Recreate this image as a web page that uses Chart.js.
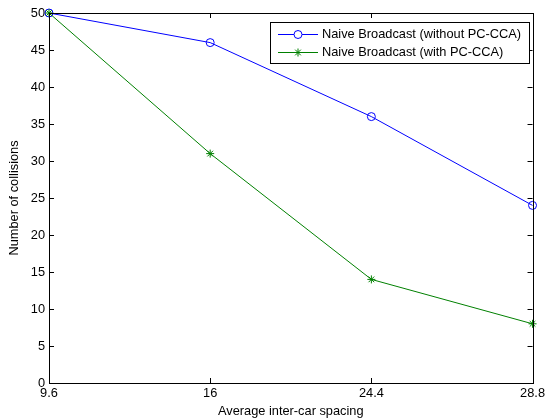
<!DOCTYPE html>
<html>
<head>
<meta charset="utf-8">
<script src="https://cdn.jsdelivr.net/npm/chart.js@4.4.0/dist/chart.umd.min.js"></script>
<style>
    html, body { margin: 0; padding: 0; background: #fff; }
    #wrap { width: 548px; height: 418px; }
</style>
</head>
<body>
<div id="wrap"><canvas id="chart" width="548" height="418"></canvas></div>
<script>
const spacing = ['9.6', '16', '24.4', '28.8'];
const withoutPCCA = [50, 46, 36, 24];
const withPCCA = [50, 31, 14, 8];
const seriesNames = ['Naive Broadcast (without PC-CCA)', 'Naive Broadcast (with PC-CCA)'];

const FONT = 'Arial, "Liberation Sans", sans-serif';
const BLUE = '#0000ff';
const GREEN = '#008000';

// box, inward ticks and legend, matlab style
const matlabFrame = {
    id: 'matlabFrame',
    afterDraw(chart) {
        const ctx = chart.ctx;
        const a = chart.chartArea;
        const xs = chart.scales.x, ys = chart.scales.y;
        ctx.save();
        ctx.strokeStyle = '#000';
        ctx.lineWidth = 1;
        ctx.strokeRect(Math.round(a.left) + 0.5, Math.round(a.top) + 0.5,
            Math.round(a.right - a.left), Math.round(a.bottom - a.top));

        ctx.beginPath();
        ys.ticks.forEach(t => {
            const y = Math.round(ys.getPixelForValue(t.value)) + 0.5;
            ctx.moveTo(a.left, y); ctx.lineTo(a.left + 5, y);
            ctx.moveTo(a.right, y); ctx.lineTo(a.right - 5, y);
        });
        spacing.forEach((s, i) => {
            const x = Math.round(xs.getPixelForValue(i)) + 0.5;
            ctx.moveTo(x, a.bottom); ctx.lineTo(x, a.bottom - 5);
            ctx.moveTo(x, a.top); ctx.lineTo(x, a.top + 5);
        });
        ctx.stroke();

        // legend
        const lx = 270.5, ly = 22.5, lw = 259, lh = 41;
        ctx.fillStyle = '#fff';
        ctx.fillRect(lx, ly, lw, lh);
        ctx.strokeRect(lx, ly, lw, lh);
        const rows = [
            { y: 34.5, color: BLUE, marker: 'circle' },
            { y: 52.5, color: GREEN, marker: 'star' }
        ];
        ctx.font = '12.8px ' + FONT;
        ctx.textBaseline = 'middle';
        rows.forEach((r, i) => {
            ctx.strokeStyle = r.color;
            ctx.beginPath();
            ctx.moveTo(278, r.y); ctx.lineTo(318, r.y);
            ctx.stroke();
            ctx.beginPath();
            if (r.marker === 'circle') {
                ctx.fillStyle = '#fff';
                ctx.arc(298, r.y, 4, 0, Math.PI * 2);
                ctx.fill();
            } else {
                for (let k = 0; k < 4; k++) {
                    const ang = k * Math.PI / 4;
                    ctx.moveTo(298 - 4 * Math.cos(ang), r.y - 4 * Math.sin(ang));
                    ctx.lineTo(298 + 4 * Math.cos(ang), r.y + 4 * Math.sin(ang));
                }
            }
            ctx.stroke();
            ctx.fillStyle = '#000';
            ctx.fillText(seriesNames[i], 322, r.y);
        });
        ctx.restore();
    }
};

new Chart(document.getElementById('chart'), {
    type: 'line',
    data: {
        labels: spacing,
        datasets: [{
            label: seriesNames[0],
            data: withoutPCCA,
            borderColor: BLUE,
            backgroundColor: 'rgba(255,255,255,0)',
            borderWidth: 1,
            pointStyle: 'circle',
            pointRadius: 4,
            pointBorderColor: BLUE,
            pointBorderWidth: 1,
            pointBackgroundColor: 'rgba(255,255,255,0)',
            tension: 0,
            clip: false,
            order: 1
        }, {
            label: seriesNames[1],
            data: withPCCA,
            borderColor: GREEN,
            backgroundColor: GREEN,
            borderWidth: 1,
            pointStyle: 'star',
            pointRadius: 4,
            pointBorderColor: GREEN,
            pointBorderWidth: 1,
            tension: 0,
            clip: false,
            order: 0
        }]
    },
    options: {
        responsive: false,
        animation: false,
        layout: { padding: { top: 13, right: 12, left: 0, bottom: 0 } },
        plugins: {
            legend: { display: false },
            tooltip: { enabled: false }
        },
        scales: {
            x: {
                type: 'category',
                offset: false,
                grid: { display: false, drawTicks: false },
                border: { display: false },
                ticks: {
                    color: '#000',
                    font: { family: FONT, size: 12.8 },
                    padding: 3,
                    maxRotation: 0,
                    autoSkip: false
                },
                title: {
                    display: true,
                    text: 'Average inter-car spacing',
                    color: '#000',
                    font: { family: FONT, size: 12.8, lineHeight: 1 },
                    padding: { top: 0, bottom: 0 }
                },
                afterFit: s => { s.height = 35; }
            },
            y: {
                min: 0,
                max: 50,
                grid: { display: false, drawTicks: false },
                border: { display: false },
                ticks: {
                    stepSize: 5,
                    color: '#000',
                    font: { family: FONT, size: 12.8 },
                    padding: 4
                },
                title: {
                    display: true,
                    text: 'Number of collisions',
                    color: '#000',
                    font: { family: FONT, size: 12.8, lineHeight: 1 },
                    padding: { top: 8, bottom: 0 }
                },
                afterFit: s => { s.width = 49; }
            }
        }
    },
    plugins: [matlabFrame]
});
</script>
</body>
</html>
